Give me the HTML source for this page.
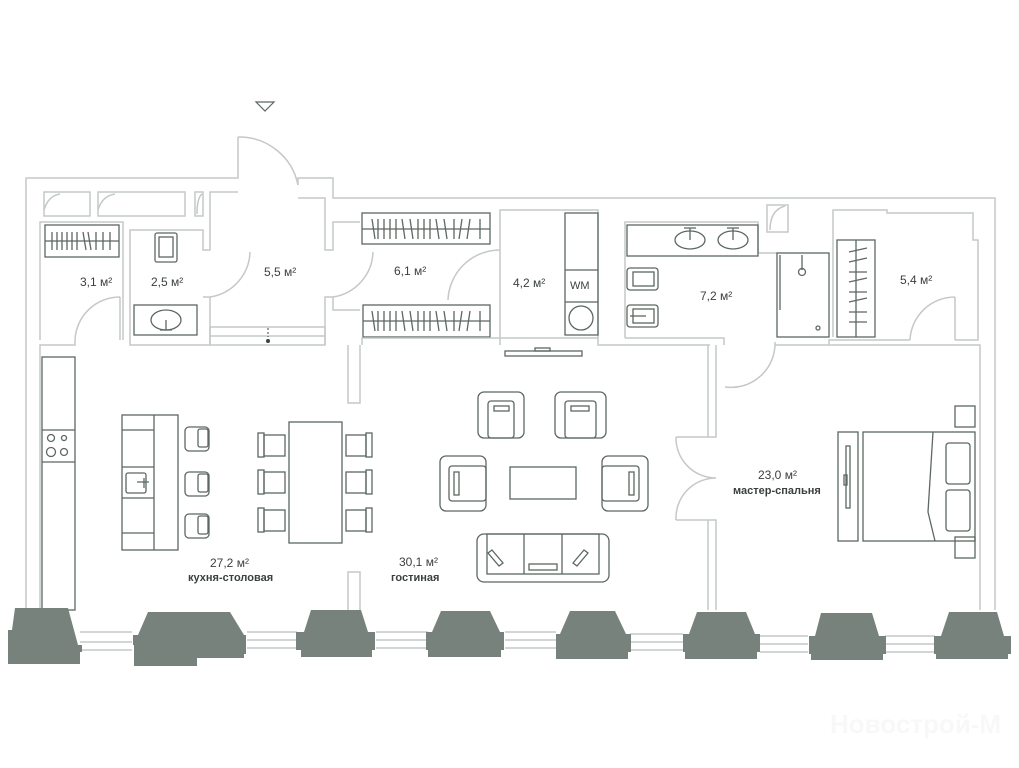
<!DOCTYPE html>
<html><head><meta charset="utf-8"><style>
html,body{margin:0;padding:0;background:#fff;width:1019px;height:768px;overflow:hidden}
svg{display:block}
.w{fill:none;stroke:#c4c9c6;stroke-width:1.5}
.f{fill:none;stroke:#5c6862;stroke-width:1.3}
.p{fill:#76827b}
text{font-family:"Liberation Sans",sans-serif;fill:#3a403d}
.a{font-size:12px}
.b{font-size:11px;font-weight:bold}
</style></head><body>
<svg width="1019" height="768" viewBox="0 0 1019 768">
<polygon points="256,102 274,102 265,111" fill="none" stroke="#5c6862" stroke-width="1.2"/>
<polyline class="w" points="26,610 26,178 238,178 238,137"/>
<path class="w" d="M238,137 A60,60 0 0 1 298,185"/>
<polyline class="w" points="298,185 298,178 333,178 333,198 995,198 995,610"/>
<polyline class="w" points="40,610 40,345 75,345 75,340"/>
<polyline class="w" points="980,610 980,345 965,345"/>
<rect class="w" x="44" y="192" width="46" height="24"/>
<rect class="w" x="98" y="192" width="87" height="24"/>
<rect class="w" x="195" y="192" width="8" height="24"/>
<path class="w" d="M44,210 Q48,196 60,194 M98,210 Q102,196 115,194 M197,214 Q197,198 202,194"/>
<polyline class="w" points="40,340 40,222 123,222 123,340"/>
<rect class="f" x="45" y="225" width="74" height="32"/>
<line class="f" x1="45" y1="241" x2="119" y2="241"/>
<g class="f"><path d="M52,232v18M57,232v18M62,232v18M67,232v18M72,232v18M77,232v18M83,232l3,18M88,232l3,18M96,232v18M103,232v18M110,232v18"/></g>
<path class="w" d="M75,340 A45,45 0 0 1 120,297"/>
<line class="w" x1="120" y1="297" x2="120" y2="340"/>
<polyline class="w" points="130,340 130,230 203,230 203,250 210,250 210,192 238,192"/>
<rect class="f" x="155" y="233" width="22" height="29" rx="2"/>
<rect class="f" x="159" y="237" width="14" height="20"/>
<rect class="f" x="134" y="305" width="63" height="30"/>
<ellipse class="f" cx="166" cy="320" rx="15" ry="10"/>
<path class="f" d="M166,320v10M160,330h12"/>
<path class="w" d="M210,297 A47,47 0 0 0 250,252"/>
<polyline class="w" points="203,297 210,297 210,345 130,345 130,340"/>
<rect class="w" x="210" y="327" width="115" height="18"/>
<line class="w" x1="210" y1="336" x2="325" y2="336"/>
<circle cx="268" cy="341" r="2" fill="#3a403d"/>
<line x1="268" y1="328" x2="268" y2="337" stroke="#3a403d" stroke-width="1" stroke-dasharray="2,2"/>
<polyline class="w" points="298,198 325,198 325,250 333,250 333,222 360,222"/>
<path class="w" d="M333,297 A47,47 0 0 0 373,252"/>
<polyline class="w" points="325,345 325,297 333,297 333,310 360,310"/>
<rect class="f" x="362" y="213" width="128" height="31"/>
<line class="f" x1="362" y1="229" x2="490" y2="229"/>
<rect class="f" x="363" y="305" width="127" height="32"/>
<line class="f" x1="363" y1="321" x2="490" y2="321"/>
<g class="f"><path d="M372,219l3,20M378,219v20M384,219v20M390,219v20M396,219v20M402,219l3,20M410,219l3,20M418,219v20M424,219v20M430,219v20M436,219l3,20M444,219l3,20M454,219v20M462,219l-3,20M470,219l-3,20M480,219v20"/>
<path d="M372,311l3,20M378,311v20M384,311v20M390,311v20M396,311v20M402,311l3,20M410,311l3,20M418,311v20M424,311v20M430,311v20M436,311l3,20M444,311l3,20M454,311v20M462,311l-3,20M470,311l-3,20M480,311v20"/></g>
<polyline class="w" points="500,345 500,210 598,210 598,338"/>
<path class="w" d="M448,300 A52,52 0 0 1 500,250"/>
<polyline class="w" points="362,345 362,338 598,338 598,345 710,345"/>
<rect class="f" x="565" y="213" width="33" height="122"/>
<line class="f" x1="565" y1="270" x2="598" y2="270"/>
<line class="f" x1="565" y1="302" x2="598" y2="302"/>
<circle class="f" cx="581" cy="318" r="12"/>
<text x="570" y="289" font-size="11" style="fill:#3a403d">WM</text>
<polyline class="w" points="625,338 625,222 758,222 758,253 777,253"/>
<rect class="f" x="627" y="225" width="131" height="31"/>
<ellipse class="f" cx="690" cy="240" rx="15" ry="9"/>
<ellipse class="f" cx="733" cy="240" rx="15" ry="9"/>
<path class="f" d="M690,240v-12M684,228h12M733,240v-12M727,228h12"/>
<rect class="f" x="627" y="268" width="31" height="22" rx="3"/>
<rect class="f" x="633" y="272" width="21" height="14"/>
<rect class="f" x="627" y="305" width="31" height="22" rx="3"/>
<rect class="f" x="633" y="309" width="21" height="14"/>
<line class="f" x1="630" y1="316" x2="646" y2="316"/>
<polyline class="w" points="625,338 724,338 724,345"/>
<path class="w" d="M725,387 A44,44 0 0 0 775,342"/>
<rect class="w" x="767" y="205" width="21" height="27"/>
<path class="w" d="M770,230 Q770,210 785,206"/>
<rect class="f" x="777" y="253" width="52" height="84"/>
<line class="f" x1="780" y1="255" x2="780" y2="310"/>
<line class="f" x1="802" y1="255" x2="802" y2="270"/>
<circle class="f" cx="802" cy="272" r="3.5"/>
<circle class="f" cx="818" cy="328" r="2"/>
<rect class="f" x="837" y="240" width="38" height="97"/>
<line class="f" x1="856" y1="240" x2="856" y2="337"/>
<g class="f"><path d="M849,252l18,-4M849,262l18,-4M849,272h18M849,282l18,-4M849,292h18M849,302l18,-4M849,312h18M849,322h18"/></g>
<polyline class="w" points="829,345 829,340 910,340 M887,213 887,198"/>
<polyline class="w" points="833,337 833,210 887,210 887,213 973,213 973,240 978,240 978,340 955,340"/>
<path class="w" d="M910,340 A45,45 0 0 1 955,297"/>
<line class="w" x1="955" y1="297" x2="955" y2="340"/>
<line class="w" x1="775" y1="345" x2="965" y2="345"/>
<rect class="f" x="505" y="351" width="77" height="5"/>
<rect class="f" x="535" y="348" width="15" height="3"/>
<polyline class="w" points="348,345 348,403 360,403 360,345"/>
<polyline class="w" points="348,610 348,572 360,572 360,610"/>
<polyline class="w" points="708,345 708,437 716,437 716,345"/>
<polyline class="w" points="708,610 708,520 716,520 716,610"/>
<path class="w" d="M676,437 A40,40 0 0 0 716,478 A40,40 0 0 0 676,520"/>
<path class="w" d="M676,437h32M676,520h32"/>
<rect class="f" x="42" y="357" width="33" height="253"/>
<line class="f" x1="42" y1="430" x2="75" y2="430"/>
<line class="f" x1="42" y1="462" x2="75" y2="462"/>
<circle class="f" cx="51" cy="438" r="3.5"/><circle class="f" cx="64" cy="438" r="2.5"/>
<circle class="f" cx="51" cy="452" r="4.5"/><circle class="f" cx="64" cy="452" r="3.5"/>
<rect class="f" x="122" y="415" width="56" height="135"/>
<line class="f" x1="154" y1="415" x2="154" y2="550"/>
<path class="f" d="M122,430h32M122,467h32M122,498h32M122,533h32"/>
<rect class="f" x="126" y="473" width="20" height="20" rx="2"/>
<path class="f" d="M137,482h12M144,478v10"/>
<rect class="f" x="185" y="427" width="24" height="24" rx="4"/><rect class="f" x="198" y="429" width="10" height="18" rx="2"/>
<rect class="f" x="185" y="472" width="24" height="24" rx="4"/><rect class="f" x="198" y="474" width="10" height="18" rx="2"/>
<rect class="f" x="185" y="514" width="24" height="24" rx="4"/><rect class="f" x="198" y="516" width="10" height="18" rx="2"/>
<rect class="f" x="289" y="422" width="53" height="121"/>
<g class="f">
<rect x="258" y="433" width="6" height="24"/><rect x="264" y="435" width="21" height="21"/>
<rect x="258" y="470" width="6" height="24"/><rect x="264" y="472" width="21" height="21"/>
<rect x="258" y="508" width="6" height="24"/><rect x="264" y="510" width="21" height="21"/>
<rect x="366" y="433" width="6" height="24"/><rect x="346" y="435" width="20" height="21"/>
<rect x="366" y="470" width="6" height="24"/><rect x="346" y="472" width="20" height="21"/>
<rect x="366" y="508" width="6" height="24"/><rect x="346" y="510" width="20" height="21"/>
</g>
<g class="f">
<rect x="478" y="392" width="46" height="46" rx="6"/><rect x="488" y="401" width="26" height="37" rx="3"/><rect x="494" y="406" width="15" height="5"/>
<rect x="555" y="392" width="51" height="46" rx="6"/><rect x="565" y="401" width="31" height="37" rx="3"/><rect x="571" y="406" width="18" height="5"/>
<rect x="440" y="456" width="46" height="55" rx="6"/><rect x="449" y="466" width="37" height="35" rx="3"/><rect x="454" y="472" width="5" height="23"/>
<rect x="602" y="456" width="46" height="55" rx="6"/><rect x="602" y="466" width="37" height="35" rx="3"/><rect x="629" y="472" width="5" height="23"/>
<rect x="510" y="467" width="66" height="32"/>
<rect x="477" y="534" width="132" height="48" rx="7"/>
<rect x="487" y="534" width="112" height="40"/>
<path d="M524,534v40M562,534v40"/>
<rect x="529" y="564" width="28" height="6"/>
<path d="M492,550l11,13l-4,3l-11,-13zM584,550l-11,13l4,3l11,-13z"/>
</g>
<g class="f">
<rect x="955" y="406" width="20" height="21"/><rect x="955" y="537" width="20" height="21"/>
<rect x="838" y="432" width="20" height="109"/><rect x="846" y="446" width="4" height="62"/><rect x="844" y="475" width="3" height="10"/>
<rect x="863" y="432" width="112" height="109"/>
<path d="M933,432l-5,80l7,29"/>
<rect x="946" y="443" width="24" height="41" rx="3"/>
<rect x="946" y="490" width="24" height="41" rx="3"/>
</g>
<g class="w">
<path d="M80,632h52M80,642h52M80,650h52"/>
<path d="M247,632h50M247,640h50M247,648h50"/>
<path d="M376,632h52M376,640h52M376,648h52"/>
<path d="M505,632h51M505,640h51M505,648h51"/>
<path d="M630,634h53M630,642h53M630,650h53"/>
<path d="M760,636h48M760,644h48M760,652h48"/>
<path d="M885,636h50M885,644h50M885,652h50"/>
</g>
<polygon class="p" points="15,608 68,608 78,645 82,645 82,652 80,652 80,664 8,664 8,650 8,630 12,630"/>
<polygon class="p" points="148,612 230,612 244,635 246,635 246,654 244,654 244,658 197,658 197,666 134,666 134,645 133,645 133,635 138,635"/>
<polygon class="p" points="311,610 361,610 368,632 375,632 375,650 372,650 372,657 301,657 301,650 296,650 296,632 304,632"/>
<polygon class="p" points="441,611 490,611 500,632 504,632 504,650 501,650 501,657 428,657 428,650 426,650 426,632 432,632"/>
<polygon class="p" points="570,611 615,611 626,634 631,634 631,652 628,652 628,659 556,659 556,634 560,634"/>
<polygon class="p" points="697,612 746,612 755,634 760,634 760,652 757,652 757,659 685,659 685,652 683,652 683,634 689,634"/>
<polygon class="p" points="821,613 872,613 879,636 886,636 886,654 883,654 883,660 811,660 811,654 809,654 809,636 815,636"/>
<polygon class="p" points="949,612 997,612 1004,636 1011,636 1011,654 1008,654 1008,659 936,659 936,654 934,654 934,636 941,636"/>
<text class="a" x="80" y="286">3,1 м²</text>
<text class="a" x="151" y="286">2,5 м²</text>
<text class="a" x="264" y="276">5,5 м²</text>
<text class="a" x="394" y="275">6,1 м²</text>
<text class="a" x="513" y="287">4,2 м²</text>
<text class="a" x="700" y="300">7,2 м²</text>
<text class="a" x="900" y="284">5,4 м²</text>
<text class="a" x="210" y="567">27,2 м²</text>
<text class="b" x="188" y="581">кухня-столовая</text>
<text class="a" x="399" y="566">30,1 м²</text>
<text class="b" x="391" y="581">гостиная</text>
<text class="a" x="758" y="479">23,0 м²</text>
<text class="b" x="733" y="494">мастер-спальня</text>
<text x="830" y="733" font-size="26" font-weight="bold" style="fill:#f8f8f8">Новострой-М</text>
</svg>
</body></html>
